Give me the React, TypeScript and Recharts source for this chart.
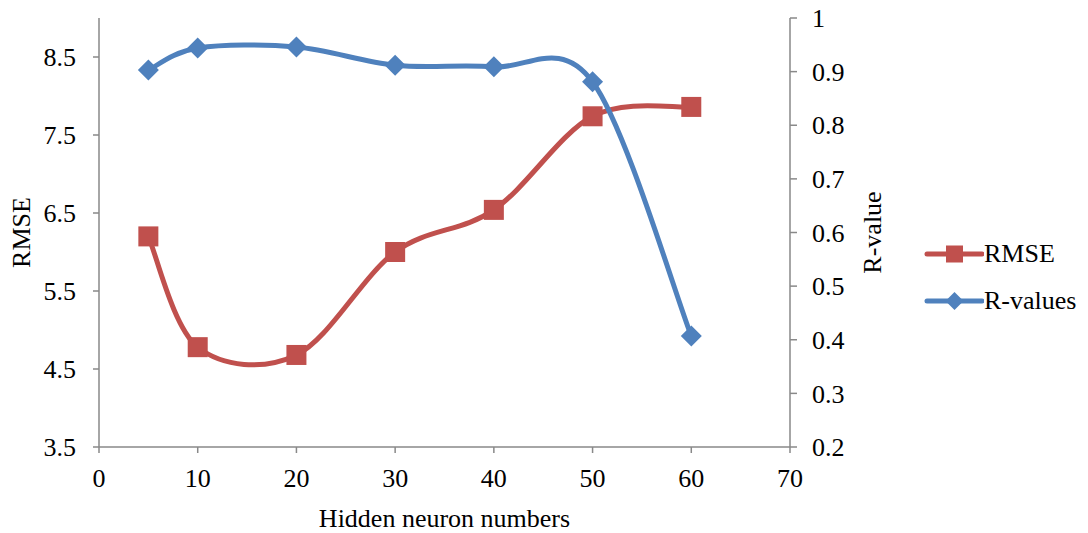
import React from 'react';
import { LineChart, Line, XAxis, YAxis, Legend, Label } from 'recharts';

const neurons = [5, 10, 20, 30, 40, 50, 60];
const rmseValues = [6.2, 4.78, 4.68, 6.0, 6.54, 7.74, 7.86];
const rValues = [0.903, 0.944, 0.946, 0.912, 0.909, 0.881, 0.407];
const xTicks = [0, 10, 20, 30, 40, 50, 60, 70];
const leftTicks = [3.5, 4.5, 5.5, 6.5, 7.5, 8.5];
const rightTicks = [0.2, 0.3, 0.4, 0.5, 0.6, 0.7, 0.8, 0.9, 1];
const seriesNames = ['RMSE', 'R-values'];
const xTitle = 'Hidden neuron numbers';
const leftTitle = 'RMSE';
const rightTitle = 'R-value';

const RED = '#C0504D';
const BLUE = '#4F81BD';
const AXIS = '#898989';
const FONT = '"Liberation Serif", "Times New Roman", serif';
const FS = 26;

const data = neurons.map((n, i) => ({ n, rmse: rmseValues[i], r: rValues[i] }));

// Excel-like smooth curve (Catmull-Rom as cubic Bezier)
function excelCurve(context: any) {
  let pts: number[][] = [];
  return {
    areaStart() {},
    areaEnd() {},
    lineStart() {
      pts = [];
    },
    point(x: number, y: number) {
      pts.push([+x, +y]);
    },
    lineEnd() {
      const n = pts.length;
      if (!n) return;
      context.moveTo(pts[0][0], pts[0][1]);
      for (let i = 0; i < n - 1; i++) {
        const p0 = pts[Math.max(i - 1, 0)];
        const p1 = pts[i];
        const p2 = pts[i + 1];
        const p3 = pts[Math.min(i + 2, n - 1)];
        context.bezierCurveTo(
          p1[0] + (p2[0] - p0[0]) / 6,
          p1[1] + (p2[1] - p0[1]) / 6,
          p2[0] - (p3[0] - p1[0]) / 6,
          p2[1] - (p3[1] - p1[1]) / 6,
          p2[0],
          p2[1]
        );
      }
    },
  };
}

const SquareDot = (props: any) => {
  const { cx, cy, index } = props;
  if (cx == null || cy == null) return <g key={`s${index}`} />;
  return <rect key={`s${index}`} x={cx - 10} y={cy - 10} width={20} height={20} fill={RED} />;
};

const DiamondDot = (props: any) => {
  const { cx, cy, index } = props;
  if (cx == null || cy == null) return <g key={`d${index}`} />;
  const r = 10.5;
  return (
    <polygon
      key={`d${index}`}
      points={`${cx},${cy - r} ${cx + r},${cy} ${cx},${cy + r} ${cx - r},${cy}`}
      fill={BLUE}
    />
  );
};

const renderLegend = () => {
  const colors = [RED, BLUE];
  return (
    <div style={{ fontFamily: FONT, fontSize: FS, color: '#000' }}>
      {seriesNames.map((name, i) => (
        <div key={name} style={{ display: 'flex', alignItems: 'center', height: 47 }}>
          <svg width={60} height={24} style={{ display: 'block' }}>
            <line x1={3} y1={12} x2={58} y2={12} stroke={colors[i]} strokeWidth={5} strokeLinecap="round" />
            {i === 0 ? (
              <rect x={22} y={3.5} width={17} height={17} fill={colors[i]} />
            ) : (
              <polygon points="30.5,3 39.5,12 30.5,21 21.5,12" fill={colors[i]} />
            )}
          </svg>
          <span style={{ marginLeft: 0, lineHeight: 1 }}>{name}</span>
        </div>
      ))}
    </div>
  );
};

const tickStyle = { fontFamily: FONT, fontSize: FS, fill: '#000' };

const fmtRight = (v: number) => String(+v.toFixed(1));

export default function App() {
  return (
    <div style={{ position: 'absolute', left: 0, top: 0, width: 1088, height: 533, background: '#fff' }}>
      <LineChart width={1088} height={533} data={data} margin={{ top: 18, right: 218, bottom: 0, left: 0 }}>
        <XAxis
          dataKey="n"
          type="number"
          domain={[0, 70]}
          ticks={xTicks}
          height={86}
          tick={tickStyle}
          tickSize={6}
          tickMargin={16}
          axisLine={{ stroke: AXIS, strokeWidth: 1.5 }}
          tickLine={{ stroke: AXIS, strokeWidth: 1.5 }}
        >
          <Label
            content={(p: any) => {
              const vb = p.viewBox || {};
              const cx = vb.x + vb.width / 2;
              const cy = vb.y + 71;
              return (
                <text x={cx} y={cy} textAnchor="middle" dominantBaseline="central" style={tickStyle}>
                  {xTitle}
                </text>
              );
            }}
          />
        </XAxis>
        <YAxis
          yAxisId="left"
          orientation="left"
          width={99}
          domain={[3.5, 9]}
          ticks={leftTicks}
          interval={0}
          tick={tickStyle}
          tickSize={6}
          tickMargin={17}
          axisLine={{ stroke: AXIS, strokeWidth: 1.5 }}
          tickLine={{ stroke: AXIS, strokeWidth: 1.5 }}
          allowDataOverflow
        >
          <Label
            content={(p: any) => {
              const vb = p.viewBox || {};
              const cx = vb.x + 21;
              const cy = vb.y + vb.height / 2;
              return (
                <text
                  x={cx}
                  y={cy}
                  textAnchor="middle"
                  dominantBaseline="central"
                  transform={`rotate(-90 ${cx} ${cy})`}
                  style={tickStyle}
                >
                  {leftTitle}
                </text>
              );
            }}
          />
        </YAxis>
        <YAxis
          yAxisId="right"
          orientation="right"
          width={80}
          domain={[0.2, 1]}
          ticks={rightTicks}
          interval={0}
          tickFormatter={fmtRight}
          tick={tickStyle}
          tickSize={7}
          tickMargin={15}
          axisLine={{ stroke: AXIS, strokeWidth: 1.5 }}
          tickLine={{ stroke: AXIS, strokeWidth: 1.5 }}
          allowDataOverflow
        >
          <Label
            content={(p: any) => {
              const vb = p.viewBox || {};
              const cx = vb.x + 82;
              const cy = vb.y + vb.height / 2;
              return (
                <text
                  x={cx}
                  y={cy}
                  textAnchor="middle"
                  dominantBaseline="central"
                  transform={`rotate(-90 ${cx} ${cy})`}
                  style={tickStyle}
                >
                  {rightTitle}
                </text>
              );
            }}
          />
        </YAxis>
        <Line
          yAxisId="left"
          dataKey="rmse"
          name={seriesNames[0]}
          type={excelCurve as any}
          stroke={RED}
          strokeWidth={5}
          dot={SquareDot}
          activeDot={false}
          isAnimationActive={false}
        />
        <Line
          yAxisId="right"
          dataKey="r"
          name={seriesNames[1]}
          type={excelCurve as any}
          stroke={BLUE}
          strokeWidth={5}
          dot={DiamondDot}
          activeDot={false}
          isAnimationActive={false}
        />
        <Legend
          layout="vertical"
          align="center"
          verticalAlign="middle"
          content={renderLegend}
          wrapperStyle={{ left: 924, top: 230.5, width: 164 }}
        />
      </LineChart>
    </div>
  );
}
